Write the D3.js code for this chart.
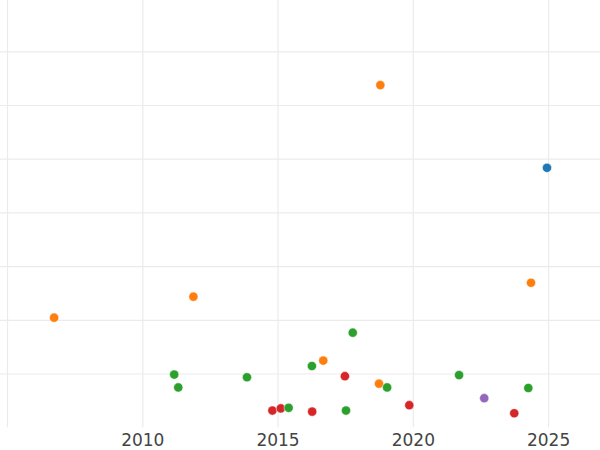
<!DOCTYPE html>
<html>
<head>
<meta charset="utf-8">
<script src="https://cdn.jsdelivr.net/npm/d3@7"></script>
<style>
  html, body { margin: 0; padding: 0; background: #fff; }
  svg { display: block; }
</style>
</head>
<body>
<div id="chart"></div>
<script>
// ---- data ----
const xTicks = [2005, 2010, 2015, 2020, 2025];
const xTickLabels = ["", "2010", "2015", "2020", "2025"];
const yTicks = [1, 2, 3, 4, 5, 6, 7];

const blueYears   = [2024.96];
const blueValues  = [4.83];

const orangeYears  = [2018.80, 2006.74, 2011.89, 2024.37, 2016.69, 2018.75];
const orangeValues = [6.37, 2.04, 2.43, 2.69, 1.24, 0.81];

const purpleYears  = [2022.64];
const purpleValues = [0.54];

const redYears  = [2014.81, 2015.12, 2017.49, 2016.28, 2019.87, 2023.75];
const redValues = [0.31, 0.35, 0.95, 0.29, 0.41, 0.26];

const greenYears  = [2011.18, 2011.33, 2013.87, 2015.41, 2017.78, 2016.27, 2019.05, 2017.53, 2021.71, 2024.27];
const greenValues = [0.98, 0.74, 0.93, 0.36, 1.76, 1.14, 0.74, 0.31, 0.97, 0.73];

const seriesNames  = ["blue", "orange", "purple", "red", "green"];
const seriesColors = ["#1f77b4", "#ff7f0e", "#9467bd", "#d62728", "#2ca02c"];
const seriesYears  = [blueYears, orangeYears, purpleYears, redYears, greenYears];
const seriesValues = [blueValues, orangeValues, purpleValues, redValues, greenValues];

// ---- layout ----
const W = 600, H = 450;
const plot = { left: 0, right: 600, top: 0, bottom: 427.2 };

const x = d3.scaleLinear()
  .domain([2004.74, 2026.92])
  .range([plot.left, plot.right]);
const y = d3.scaleLinear()
  .domain([0, 7.955])
  .range([plot.bottom, plot.top]);

const svg = d3.select("#chart").append("svg")
  .attr("width", W).attr("height", H);

const gridColor = "#ebebeb";

// horizontal grid
const yGrid = svg.append("g")
  .attr("transform", `translate(${plot.left},0)`)
  .call(d3.axisLeft(y).tickValues(yTicks).tickSize(-(plot.right - plot.left)).tickFormat(""));
yGrid.select(".domain").remove();
yGrid.selectAll("line").attr("stroke", gridColor).attr("stroke-width", 1.2);

// vertical grid + labels
const xAxis = svg.append("g")
  .attr("transform", `translate(0,${plot.bottom})`)
  .call(d3.axisBottom(x).tickValues(xTicks)
    .tickSize(-(plot.bottom - plot.top))
    .tickPadding(6)
    .tickFormat((d, i) => xTickLabels[i]));
xAxis.select(".domain").remove();
xAxis.selectAll("line").attr("stroke", gridColor).attr("stroke-width", 1.2);
xAxis.selectAll("text")
  .attr("fill", "#444")
  .attr("font-family", "DejaVu Sans")
  .attr("font-size", 17)
  .attr("dy", "0.71em")
  .attr("y", 7);

// points
const flat = [];
seriesNames.forEach((name, s) => {
  seriesYears[s].forEach((yr, i) => {
    flat.push({ name, color: seriesColors[s], x: yr, v: seriesValues[s][i] });
  });
});

svg.append("g").selectAll("circle")
  .data(flat)
  .join("circle")
  .attr("cx", d => x(d.x))
  .attr("cy", d => y(d.v))
  .attr("r", 4.6)
  .attr("fill", d => d.color)
  .attr("stroke", "#fff")
  .attr("stroke-width", 0.5);
</script>
</body>
</html>
